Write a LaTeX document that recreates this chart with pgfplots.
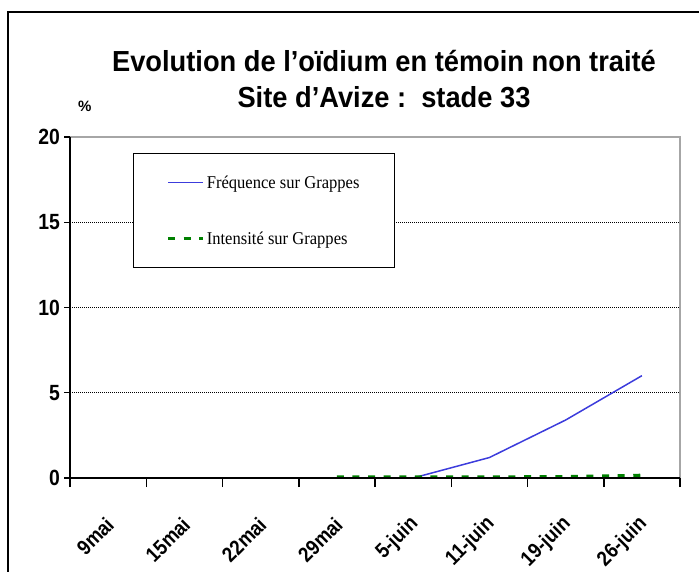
\documentclass[border=0pt]{standalone}
\usepackage{fontspec}
\setmainfont{Liberation Sans}
\newfontfamily\legfont[FakeStretch=0.92]{Liberation Serif}
\newfontfamily\narrowfont[FakeStretch=0.88]{Liberation Sans}
\newfontfamily\titlefont[FakeStretch=0.94]{Liberation Sans}
\usepackage{pgfplots}
\pgfplotsset{compat=1.18}
\definecolor{lineblue}{RGB}{60,60,220}
\definecolor{dgreen}{RGB}{0,128,0}
\begin{document}
\begin{tikzpicture}[x=1pt,y=1pt]
\useasboundingbox (0,0) rectangle (699,571);
\draw[line width=1.5pt] (8,-20) -- (8,559) -- (720,559);
\node[font=\titlefont\fontsize{29}{32}\selectfont\bfseries, anchor=base] at (384,499) {Evolution de l’oïdium en témoin non traité};
\node[font=\titlefont\fontsize{29}{32}\selectfont\bfseries, anchor=base] at (384,463) {Site d’Avize :\ \ stade 33};
\node[font=\fontsize{15}{17}\selectfont\bfseries, anchor=base west, inner sep=0pt] at (78,459) {\%};
\begin{axis}[
  at={(70pt,93pt)}, anchor=south west, scale only axis,
  width=610pt, height=341pt,
  xmin=-0.5, xmax=7.5, ymin=0, ymax=20,
  axis line style={draw=none},
  clip=false,
  xtick={0,...,7},
  xticklabels={9mai,15mai,22mai,29mai,5-juin,11-juin,19-juin,26-juin},
  minor xtick={-0.5,0.5,...,7.5},
  major x tick style={draw=none},
  ytick={0,5,10,15,20},
  ytick style={black, line width=1.2pt},
  minor x tick style={black, line width=1.5pt},
  major tick length=6pt,
  minor tick length=9pt,
  tick align=outside,
  xtick pos=bottom, ytick pos=left,
  ymajorgrids,
  grid style={black, line width=0.6pt, dash pattern=on 1pt off 1pt},
  /pgf/number format/assume math mode=true,
  yticklabel style={font=\narrowfont\fontsize{22}{24}\selectfont\bfseries, inner sep=1pt, xshift=-3pt},
  xticklabel style={font=\narrowfont\fontsize{21}{23}\selectfont\bfseries, inner sep=0pt, xshift=2pt, yshift=-37pt, rotate=45, anchor=east},
  legend style={at={(rel axis cs:0.103,0.953)}, anchor=north west, draw=black, line width=1pt, fill=white,
    font=\legfont\fontsize{18}{20}\selectfont, inner xsep=33pt, inner ysep=20pt, row sep=38pt},
  legend cell align=left,
  legend image code/.code={\draw[#1] (0pt,0pt) -- (35pt,0pt);},
]
\addplot[lineblue, line width=1.5pt] coordinates {(3,0)(4,0)(5,1.2)(6,3.4)(7,6)};
\addlegendentry{Fréquence sur Grappes}
\addplot[dgreen, line width=3.5pt, dash pattern=on 7pt off 8.6pt] coordinates {(3,0.05)(4,0.05)(5,0.05)(6,0.07)(7,0.15)};
\addlegendentry{Intensité sur Grappes}
\draw[gray!70, line width=1.5pt] (rel axis cs:0,1) -- (rel axis cs:1,1) -- (rel axis cs:1,0);
\draw[black, line width=1.5pt] (rel axis cs:0,1) -- (rel axis cs:0,0) -- (rel axis cs:1,0);
\end{axis}
\end{tikzpicture}
\end{document}
